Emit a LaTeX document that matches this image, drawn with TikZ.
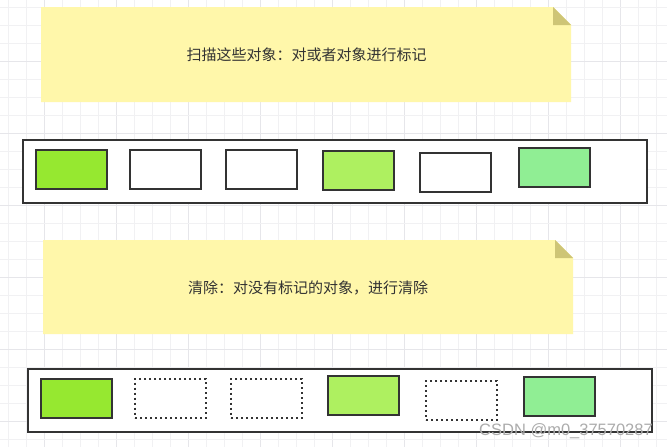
\documentclass[tikz,border=0pt]{standalone}
\usepackage{fontspec}
\newfontfamily\cjk{Noto Sans CJK SC}
\newfontfamily\wmfont{Liberation Sans}
\definecolor{notefill}{RGB}{255,247,170}
\definecolor{foldfill}{RGB}{206,197,118}
\definecolor{edge}{RGB}{51,51,51}
\definecolor{gA}{RGB}{150,232,48}
\definecolor{gB}{RGB}{174,240,96}
\definecolor{gC}{RGB}{144,238,148}
\definecolor{minorgrid}{RGB}{241,241,243}
\definecolor{majorgrid}{RGB}{230,230,234}
\definecolor{txt}{RGB}{51,51,51}
\tikzset{
  obj/.style={draw=edge, line width=2pt, minimum width=71pt, minimum height=39pt, inner sep=0pt},
  objdot/.style={obj, dash pattern=on 2pt off 3pt},
  container/.style={draw=edge, line width=2pt, fill=white, minimum width=624pt, minimum height=63pt, inner sep=0pt},
  notetext/.style={inner sep=0pt, text=txt, font=\cjk\fontsize{15}{17}\selectfont},
}
\begin{document}
\begin{tikzpicture}[x=1pt,y=-1pt]
\useasboundingbox (0,0) rectangle (667,447);
\fill[white] (0,0) rectangle (667,447);
% grid
\foreach \i in {0,...,37}{
  \pgfmathtruncatemacro{\m}{mod(\i,4)}
  \ifnum\m=2 \draw[majorgrid,line width=0.8pt] ({8+18*\i},0) -- ({8+18*\i},447);
  \else \draw[minorgrid,line width=0.8pt] ({8+18*\i},0) -- ({8+18*\i},447); \fi
}
\foreach \j in {0,...,24}{
  \pgfmathtruncatemacro{\m}{mod(\j,4)}
  \ifnum\m=3 \draw[majorgrid,line width=0.8pt] (0,{7+18*\j}) -- (667,{7+18*\j});
  \else \draw[minorgrid,line width=0.8pt] (0,{7+18*\j}) -- (667,{7+18*\j}); \fi
}
% note 1
\fill[notefill] (41,102) -- (41,7) -- (553,7) -- (571,25) -- (571,102) -- cycle;
\fill[foldfill] (553,7) -- (553,25) -- (571,25) -- cycle;
\node[notetext] (n1) at (306.5,55) {扫描这些对象：对或者对象进行标记};
% container 1
\node[container] (c1) at (334.5,171) {};
\node[obj, fill=gA] (a1) at (71,169) {};
\node[obj, fill=white] (a2) at (165,169) {};
\node[obj, fill=white] (a3) at (261,169) {};
\node[obj, fill=gB] (a4) at (358,170) {};
\node[obj, fill=white] (a5) at (455.5,172) {};
\node[obj, fill=gC] (a6) at (554,167.5) {};
% note 2
\fill[notefill] (43,334) -- (43,240) -- (555,240) -- (573,258) -- (573,334) -- cycle;
\fill[foldfill] (555,240) -- (555,258) -- (573,258) -- cycle;
\node[notetext] (n2) at (308,288) {清除：对没有标记的对象，进行清除};
% container 2
\node[container] (c2) at (339.5,400) {};
\node[obj, fill=gA] (b1) at (76,398) {};
\node[objdot, fill=white] (b2) at (170.5,398) {};
\node[objdot, fill=white] (b3) at (266.5,398) {};
\node[obj, fill=gB] (b4) at (363,395) {};
\node[objdot, fill=white] (b5) at (461.5,400.5) {};
\node[obj, fill=gC] (b6) at (559,396) {};
% watermark
\node[anchor=base east, text=gray!65, font=\wmfont\fontsize{16.5}{18}\selectfont, inner sep=0pt] (wm) at (653,435) {CSDN @m0\_37570287};
\end{tikzpicture}
\end{document}
